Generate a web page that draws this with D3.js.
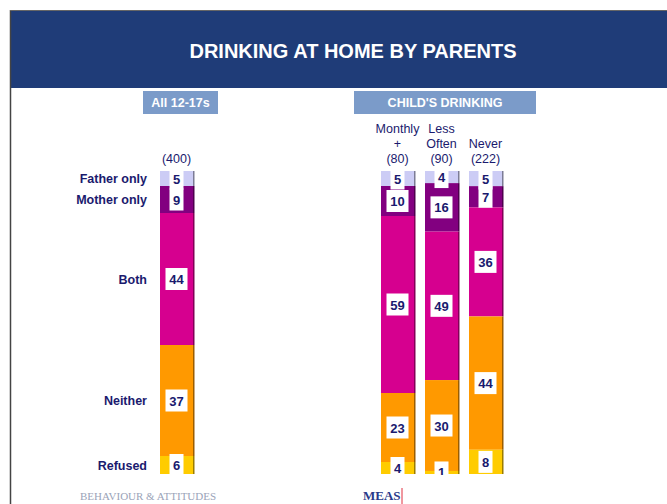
<!DOCTYPE html>
<html>
<head>
<meta charset="utf-8">
<script src="https://cdn.jsdelivr.net/npm/d3@7"></script>
<style>
  body { margin: 0; background: #fff; }
  svg { display: block; font-family: "Liberation Sans", Arial, sans-serif; }
</style>
</head>
<body>
<div id="chartArea"></div>
<script>
// answer categories, bottom of the stack is drawn last in the list
var segments = ['Father only', 'Mother only', 'Both', 'Neither', 'Refused'];
var segColors = ['#ccccf5', '#820080', '#d6008f', '#ff9900', '#ffcc00'];

// columns
var groups = ['All 12-17s', 'Monthly +', 'Less Often', 'Never'];
var groupHeads = [[], ['Monthly', '+'], ['Less', 'Often'], ['Never']];
var bases = [400, 80, 90, 222];

// percentages per column, same order as segments
var allValues = [5, 9, 44, 37, 6];
var monthlyValues = [5, 10, 59, 23, 4];
var lessOftenValues = [4, 16, 49, 30, 1];
var neverValues = [5, 7, 36, 44, 8];

var width = 667, height = 504;
var navy = '#1a1a6e';

var svg = d3.select('#chartArea').append('svg')
    .attr('width', width)
    .attr('height', height);

// frame + title banner
svg.append('rect').attr('x', 10).attr('y', 11).attr('width', width - 10).attr('height', 77)
    .attr('fill', '#1f3c78');
svg.append('line').attr('x1', 10.5).attr('x2', 10.5).attr('y1', 10).attr('y2', height)
    .attr('stroke', '#444').attr('stroke-width', 1.5);
svg.append('line').attr('x1', 10).attr('x2', width).attr('y1', 10.5).attr('y2', 10.5)
    .attr('stroke', '#666').attr('stroke-width', 1);
svg.append('text')
    .attr('x', 353).attr('y', 57.5)
    .attr('text-anchor', 'middle')
    .attr('fill', '#fff')
    .style('font-size', '20px').style('font-weight', 'bold')
    .text('DRINKING AT HOME BY PARENTS');

// sub headers
var subHeads = [{t: 'All 12-17s', x: 143, w: 75}, {t: "CHILD'S DRINKING", x: 354, w: 182}];
subHeads.forEach(function(s) {
    svg.append('rect').attr('x', s.x).attr('y', 91).attr('width', s.w).attr('height', 23)
        .attr('fill', '#7b9bc9');
    svg.append('text').attr('x', s.x + s.w / 2).attr('y', 107)
        .attr('text-anchor', 'middle').attr('fill', '#fff')
        .style('font-size', '12.5px').style('font-weight', 'bold')
        .text(s.t);
});

// build stacked (normalised) data
var rows = [allValues, monthlyValues, lessOftenValues, neverValues].map(function(vals, i) {
    var r = {group: groups[i]};
    segments.forEach(function(s, j) { r[s] = vals[j]; });
    return r;
});
var stack = d3.stack().keys(segments).offset(d3.stackOffsetExpand);
var series = stack(rows);

var yscale = d3.scaleLinear().domain([0, 1]).range([171, 474]);
var xAll = d3.scaleBand().domain(groups.slice(0, 1)).range([160, 193]);
var xChild = d3.scaleBand().domain(groups.slice(1)).range([381, 502]).paddingInner(0.25).paddingOuter(0);
function xpos(g) { return g === groups[0] ? xAll(g) : xChild(g); }
var bw = xAll.bandwidth();
var colorScale = d3.scaleOrdinal().domain(segments).range(segColors);

var bars = svg.append('g');
series.forEach(function(s) {
    var g = bars.append('g');
    g.selectAll('rect.seg').data(s).enter().append('rect')
        .attr('class', 'seg')
        .attr('x', function(d) { return xpos(d.data.group); })
        .attr('y', function(d) { return yscale(d[0]); })
        .attr('width', bw)
        .attr('height', function(d) { return yscale(d[1]) - yscale(d[0]); })
        .attr('fill', colorScale(s.key));
    // dark edge on right side
    g.selectAll('rect.edge').data(s).enter().append('rect')
        .attr('class', 'edge')
        .attr('x', function(d) { return xpos(d.data.group) + bw; })
        .attr('y', function(d) { return yscale(d[0]); })
        .attr('width', 1.5)
        .attr('height', function(d) { return yscale(d[1]) - yscale(d[0]); })
        .attr('fill', d3.color(colorScale(s.key)).darker(1.4));
});

// value labels (clipped at bottom of bars)
svg.append('clipPath').attr('id', 'clip')
    .append('rect').attr('x', 0).attr('y', 0).attr('width', width).attr('height', 475);
var labels = svg.append('g').attr('clip-path', 'url(#clip)');
series.forEach(function(s) {
    s.forEach(function(d, i) {
        var v = rows[i][s.key];
        var cx = xpos(d.data.group) + bw / 2;
        var cy = (yscale(d[0]) + yscale(d[1])) / 2;
        var bwid = String(v).length > 1 ? 22 : 14;
        labels.append('rect')
            .attr('x', cx - bwid / 2).attr('y', cy - 11)
            .attr('width', bwid).attr('height', 22)
            .attr('fill', '#fff');
    });
});
series.forEach(function(s) {
    s.forEach(function(d, i) {
        var v = rows[i][s.key];
        var cx = xpos(d.data.group) + bw / 2;
        var cy = (yscale(d[0]) + yscale(d[1])) / 2;
        labels.append('text')
            .attr('x', cx).attr('y', cy + 5)
            .attr('text-anchor', 'middle')
            .attr('fill', navy)
            .style('font-size', '13px').style('font-weight', 'bold')
            .text(v);
    });
});

// row labels, from the first column
series.forEach(function(s) {
    var d = s[0];
    svg.append('text')
        .attr('x', 147)
        .attr('y', (yscale(d[0]) + yscale(d[1])) / 2 + 4.5)
        .attr('text-anchor', 'end')
        .attr('fill', navy)
        .style('font-size', '12.5px').style('font-weight', 'bold')
        .text(s.key);
});

// column heads and bases
groups.forEach(function(g, i) {
    var cx = xpos(g) + bw / 2;
    var lines = groupHeads[i].concat(['(' + bases[i] + ')']);
    lines.forEach(function(t, k) {
        svg.append('text')
            .attr('x', cx)
            .attr('y', 163 - (lines.length - 1 - k) * 15)
            .attr('text-anchor', 'middle')
            .attr('fill', navy)
            .style('font-size', '12.5px')
            .text(t);
    });
});

// footer logos (as text)
svg.append('text').attr('x', 80).attr('y', 500)
    .attr('fill', '#9aa3b8')
    .style('font-family', '"Liberation Serif", serif').style('font-size', '11px')
    .text('BEHAVIOUR & ATTITUDES');
svg.append('text').attr('x', 363).attr('y', 500)
    .attr('fill', '#2a3a8a')
    .style('font-family', '"Liberation Serif", serif').style('font-size', '13px').style('font-weight', 'bold')
    .text('MEAS');
svg.append('line').attr('x1', 402).attr('x2', 402).attr('y1', 488).attr('y2', 504)
    .attr('stroke', '#e03040').attr('stroke-width', 1);
</script>
</body>
</html>
